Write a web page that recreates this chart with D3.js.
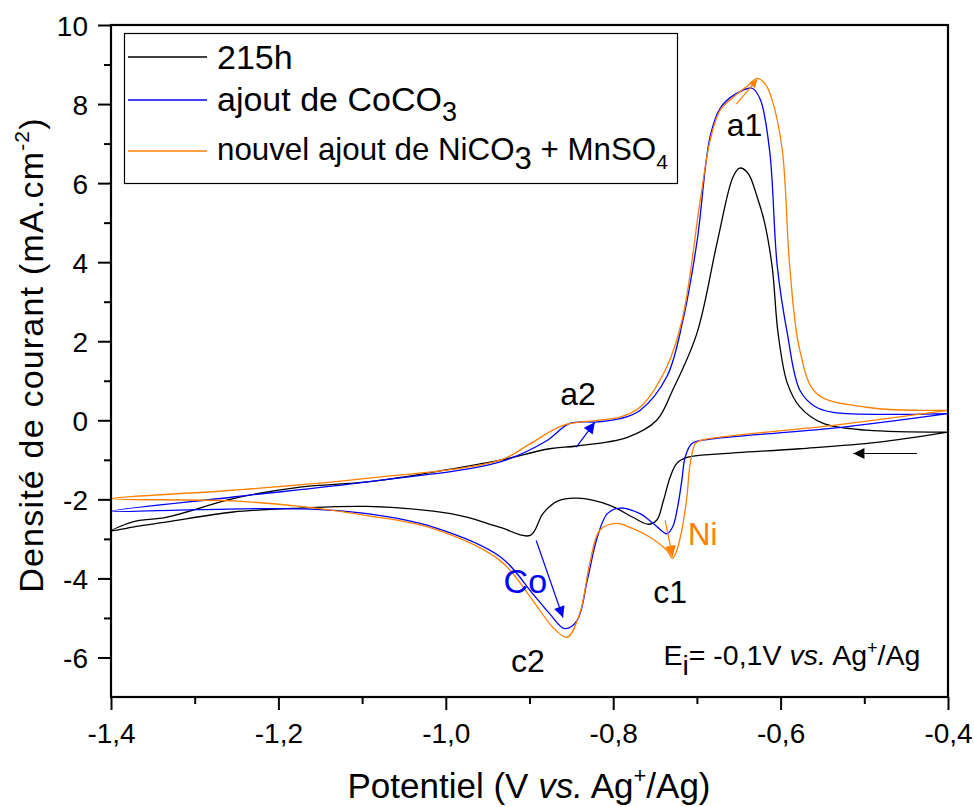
<!DOCTYPE html>
<html><head><meta charset="utf-8">
<script src="https://cdn.jsdelivr.net/npm/d3@7"></script>
<style>
html,body{margin:0;padding:0;background:#fff;}
text{font-family:"Liberation Sans",Arial,sans-serif;}
</style></head>
<body><svg id="chart" width="974" height="807"></svg>
<script>
// ---------- data ----------
const seriesNames = ["215h", "ajout de CoCO3", "nouvel ajout de NiCO3 + MnSO4"];
const seriesColors = ["#000000", "#0000ff", "#ff7f00"];

// 215h : cathodic sweep (-0.4 -> -1.4) then anodic sweep (-1.4 -> -0.4)
const blackE = [-0.400,-0.485,-0.577,-0.672,-0.712,-0.724,-0.732,-0.740,-0.748,-0.758,-0.776,-0.804,-0.843,-0.867,-0.884,-0.899,-0.935,-0.975,-1.015,-1.094,-1.174,-1.254,-1.333,-1.374,-1.400,
  -1.374,-1.333,-1.254,-1.174,-1.094,-1.015,-0.935,-0.876,-0.843,-0.783,-0.748,-0.729,-0.700,-0.676,-0.657,-0.649,-0.639,-0.628,-0.619,-0.610,-0.603,-0.592,-0.577,-0.549,-0.497,-0.400];
const blackJ = [-0.30,-0.56,-0.72,-0.85,-0.94,-1.09,-1.44,-2.03,-2.53,-2.63,-2.46,-2.15,-1.97,-2.05,-2.36,-2.91,-2.71,-2.45,-2.30,-2.18,-2.22,-2.32,-2.57,-2.70,-2.80,
  -2.57,-2.45,-1.98,-1.69,-1.56,-1.31,-1.01,-0.72,-0.65,-0.43,0.00,0.76,2.20,4.48,6.15,6.38,6.25,5.65,4.99,3.87,2.20,0.94,0.34,-0.08,-0.25,-0.30];

// ajout de CoCO3
const blueE = [-0.400,-0.537,-0.688,-0.706,-0.714,-0.718,-0.723,-0.729,-0.736,-0.752,-0.768,-0.792,-0.807,-0.819,-0.831,-0.843,-0.858,-0.876,-0.896,-0.935,-1.015,-1.094,-1.174,-1.294,-1.400,
  -1.254,-1.094,-0.935,-0.879,-0.852,-0.819,-0.792,-0.768,-0.736,-0.717,-0.700,-0.684,-0.672,-0.654,-0.634,-0.624,-0.613,-0.604,-0.592,-0.577,-0.559,-0.537,-0.457,-0.400];
const blueJ = [0.17,-0.20,-0.49,-0.59,-0.93,-1.52,-2.19,-2.70,-2.87,-2.61,-2.36,-2.22,-2.36,-2.96,-4.05,-5.06,-5.27,-4.89,-4.39,-3.45,-2.70,-2.36,-2.24,-2.26,-2.30,
  -1.94,-1.56,-1.05,-0.51,-0.08,-0.04,0.04,0.25,1.10,2.50,4.50,7.20,7.90,8.25,8.40,8.10,6.80,3.90,2.20,0.76,0.35,0.20,0.15,0.17];

// nouvel ajout de NiCO3 + MnSO4
const orangeE = [-0.400,-0.537,-0.696,-0.702,-0.708,-0.712,-0.718,-0.724,-0.729,-0.736,-0.756,-0.780,-0.795,-0.816,-0.828,-0.840,-0.855,-0.872,-0.896,-0.935,-1.015,-1.094,-1.174,-1.254,-1.400,
  -1.254,-1.094,-0.935,-0.899,-0.860,-0.819,-0.792,-0.768,-0.736,-0.717,-0.696,-0.684,-0.672,-0.655,-0.640,-0.628,-0.618,-0.610,-0.598,-0.589,-0.577,-0.557,-0.497,-0.400];
const orangeJ = [0.25,-0.13,-0.51,-0.59,-1.09,-1.94,-2.78,-3.29,-3.49,-3.29,-2.96,-2.71,-2.61,-2.78,-3.62,-4.89,-5.49,-5.24,-4.56,-3.55,-2.74,-2.41,-2.18,-2.04,-1.98,
  -1.77,-1.47,-1.01,-0.59,-0.13,0.00,0.08,0.33,1.35,2.60,5.57,7.10,7.85,8.20,8.45,8.65,8.50,8.10,6.84,3.87,1.77,0.68,0.33,0.25];

const xTicks = [-1.4,-1.2,-1.0,-0.8,-0.6,-0.4];
const xTickLabels = ["-1,4","-1,2","-1,0","-0,8","-0,6","-0,4"];
const xMinor = [-1.3,-1.1,-0.9,-0.7,-0.5];
const yTicks = [-6,-4,-2,0,2,4,6,8,10];
const yTickLabels = ["-6","-4","-2","0","2","4","6","8","10"];
const yMinor = [-5,-3,-1,1,3,5,7,9];

// annotation arrows (data units) and labels
const arrowFromE = [-0.653,-0.844,-0.892,-0.738,-0.437];
const arrowFromJ = [8.00,-0.68,-3.04,-2.53,-0.84];
const arrowToE   = [-0.628,-0.822,-0.860,-0.729,-0.513];
const arrowToJ   = [8.62,-0.05,-4.99,-3.45,-0.84];
const arrowColors = ["#ff7f00","#0000ff","#0000ff","#ff7f00","#000000"];

const labelTexts = ["a1","a2","c1","c2","Co","Ni"];
const labelE = [-0.643,-0.842,-0.732,-0.902,-0.905,-0.693];
const labelJ = [7.19,0.38,-4.61,-6.38,-4.38,-3.16];
const labelColors = ["#000","#000","#000","#000","#0000ff","#ff7f00"];
const labelSizes = [32,32,32,32,34,31];

// ---------- chart ----------
const svg = d3.select("#chart");
const L = 111, R = 948, T = 25, B = 697;
const x = d3.scaleLinear().domain([-1.4,-0.4]).range([L,R]);
const y = d3.scaleLinear().domain([-7,10]).range([B,T]);

const defs = svg.append("defs");
defs.append("clipPath").attr("id","clip").append("rect")
  .attr("x",L).attr("y",T).attr("width",R-L).attr("height",B-T);
arrowColors.forEach((c,i)=>{
  defs.append("marker").attr("id","ah"+i)
    .attr("viewBox","0 0 10 10").attr("refX",10).attr("refY",5)
    .attr("markerUnits","userSpaceOnUse")
    .attr("markerWidth", i===0?10:14).attr("markerHeight", i===0?8:11)
    .attr("orient","auto")
    .append("path").attr("d","M0,0 L10,5 L0,10 Z").attr("fill",c);
});

// curves
const line = d3.line().x(d=>x(d[0])).y(d=>y(d[1])).curve(d3.curveCatmullRom.alpha(0.5));
const curves = [
  {E:blackE,J:blackJ,c:seriesColors[0]},
  {E:blueE,J:blueJ,c:seriesColors[1]},
  {E:orangeE,J:orangeJ,c:seriesColors[2]}
];
const g = svg.append("g").attr("clip-path","url(#clip)");
curves.forEach(s=>{
  g.append("path").datum(d3.zip(s.E,s.J))
    .attr("d",line).attr("fill","none").attr("stroke",s.c).attr("stroke-width",1.3);
});

// arrows
arrowColors.forEach((c,i)=>{
  svg.append("line")
    .attr("x1",x(arrowFromE[i])).attr("y1",y(arrowFromJ[i]))
    .attr("x2",x(arrowToE[i])).attr("y2",y(arrowToJ[i]))
    .attr("stroke",c).attr("stroke-width",1.2)
    .attr("marker-end","url(#ah"+i+")");
});

// labels
labelTexts.forEach((t,i)=>{
  svg.append("text").attr("x",x(labelE[i])).attr("y",y(labelJ[i]))
    .attr("text-anchor","middle").attr("font-size",labelSizes[i]).attr("fill",labelColors[i]).text(t);
});

// E_i annotation
const ei = svg.append("text").attr("x",x(-0.740)).attr("y",y(-6.2)).attr("font-size",28.5).attr("fill","#000");
ei.append("tspan").text("E");
ei.append("tspan").attr("dy",10).text("i");
ei.append("tspan").attr("dy",-10).text("= -0,1V ");
ei.append("tspan").attr("font-style","italic").text("vs.");
ei.append("tspan").text(" Ag");
ei.append("tspan").attr("dy",-11).attr("font-size",18).text("+");
ei.append("tspan").attr("dy",11).text("/Ag");

// frame
svg.append("rect").attr("x",L).attr("y",T).attr("width",R-L).attr("height",B-T)
  .attr("fill","none").attr("stroke","#000").attr("stroke-width",2.2);

// x axis
const xAxis = svg.append("g").attr("transform",`translate(0,${B})`)
  .call(d3.axisBottom(x).tickValues(xTicks).tickSize(13).tickFormat((d,i)=>xTickLabels[i]));
svg.append("g").attr("transform",`translate(0,${B})`)
  .call(d3.axisBottom(x).tickValues(xMinor).tickSize(7).tickFormat(""));
// y axis
const yAxis = svg.append("g").attr("transform",`translate(${L},0)`)
  .call(d3.axisLeft(y).tickValues(yTicks).tickSize(13).tickFormat((d,i)=>yTickLabels[i]));
svg.append("g").attr("transform",`translate(${L},0)`)
  .call(d3.axisLeft(y).tickValues(yMinor).tickSize(7).tickFormat(""));
svg.selectAll(".domain").remove();
svg.selectAll(".tick line").attr("stroke","#000").attr("stroke-width",2);
xAxis.selectAll(".tick text").attr("font-size",28).attr("font-family","Liberation Sans, Arial, sans-serif").attr("fill","#000").attr("dy",0).attr("y",46);
yAxis.selectAll(".tick text").attr("font-size",28).attr("font-family","Liberation Sans, Arial, sans-serif").attr("fill","#000").attr("x",-23).attr("dy","0.36em");

// axis titles
const xt = svg.append("text").attr("x",529).attr("y",798).attr("text-anchor","middle").attr("font-size",35);
xt.append("tspan").text("Potentiel (V ");
xt.append("tspan").attr("font-style","italic").text("vs.");
xt.append("tspan").text(" Ag");
xt.append("tspan").attr("dy",-15).attr("font-size",22).text("+");
xt.append("tspan").attr("dy",15).text("/Ag)");

const yt = svg.append("text").attr("transform","translate(43,355) rotate(-90)").attr("text-anchor","middle")
  .attr("font-size",34).attr("letter-spacing",1.2);
yt.append("tspan").text("Densité de courant (mA.cm");
yt.append("tspan").attr("dy",-14).attr("font-size",21).text("-2");
yt.append("tspan").attr("dy",14).text(")");

// legend
const lg = svg.append("g");
lg.append("rect").attr("x",124.5).attr("y",33.5).attr("width",553).attr("height",150)
  .attr("fill","#fff").attr("stroke","#000").attr("stroke-width",1.2);
const legY = [57,100,151];
seriesNames.forEach((n,i)=>{
  lg.append("line").attr("x1",128).attr("x2",207).attr("y1",legY[i]).attr("y2",legY[i])
    .attr("stroke",seriesColors[i]).attr("stroke-width",1.3);
});
lg.append("text").attr("x",217).attr("y",legY[0]+12).attr("font-size",34).text("215h");
const t1 = lg.append("text").attr("x",217).attr("y",legY[1]+11).attr("font-size",34);
t1.append("tspan").text("ajout de CoCO");
t1.append("tspan").attr("dy",10).attr("font-size",27).text("3");
const t2 = lg.append("text").attr("x",217).attr("y",legY[2]+9).attr("font-size",31.3);
t2.append("tspan").text("nouvel ajout de NiCO");
t2.append("tspan").attr("dy",9).attr("font-size",31).text("3");
t2.append("tspan").attr("dy",-9).text(" + MnSO");
t2.append("tspan").attr("dy",9).attr("font-size",21).text("4");
</script></body></html>
